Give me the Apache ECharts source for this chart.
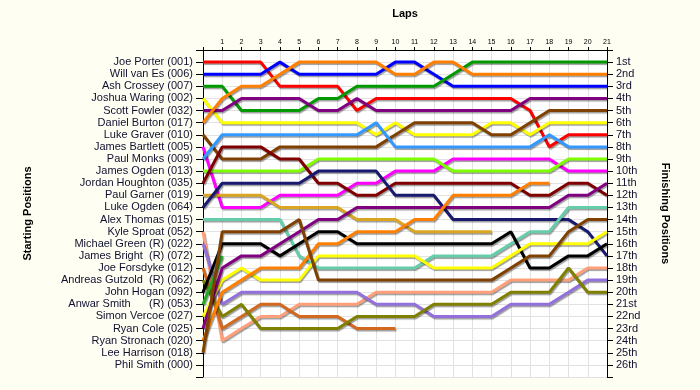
<!DOCTYPE html>
<html>
<head>
<meta charset="utf-8">
<script src="https://cdn.jsdelivr.net/npm/echarts@6/dist/echarts.min.js"></script>
<style>
html,body{margin:0;padding:0;background:#FEFEF3;}
#c{width:700px;height:390px;}
</style>
</head>
<body>
<div id="c"></div>
<script>
// Lap numbers (0 = grid / start)
const laps = [0,1,2,3,4,5,6,7,8,9,10,11,12,13,14,15,16,17,18,19,20,21];

// Starting grid labels (position 1..26)
const startNames = [
  "Joe Porter (001)", "Will van Es (006)", "Ash Crossey (007)", "Joshua Waring (002)",
  "Scott Fowler (032)", "Daniel Burton (017)", "Luke Graver (010)", "James Bartlett (005)",
  "Paul Monks (009)", "James Ogden (013)", "Jordan Houghton (035)", "Paul Garner (019)",
  "Luke Ogden (064)", "Alex Thomas (015)", "Kyle Sproat (052)", "Michael Green (R) (022)",
  "James Bright  (R) (072)", "Joe Forsdyke (012)", "Andreas Gutzold  (R) (062)", "John Hogan (092)",
  "Anwar Smith      (R) (053)", "Simon Vercoe (027)", "Ryan Cole (025)", "Ryan Stronach (020)",
  "Lee Harrison (018)", "Phil Smith (000)"
];

// Finishing position labels
const finishNames = ["1st","2nd","3rd","4th","5th","6th","7th","8th","9th","10th","11th","12th","13th",
  "14th","15th","16th","17th","18th","19th","20th","21st","22nd","23rd","24th","25th","26th"];

// Position per lap (lap 0..21); null = retired
const joePorter      = [1,1,1,1,3,3,3,3,5,4,4,4,4,4,4,4,4,5,8,7,7,7];
const willVanEs      = [2,2,2,2,1,2,2,2,2,2,1,1,2,3,3,3,3,3,3,3,3,3];
const ashCrossey     = [3,3,5,5,5,5,4,4,3,3,3,3,3,2,1,1,1,1,1,1,1,1];
const joshuaWaring   = [4,6,6,6,6,6,6,6,6,7,6,7,7,7,7,6,6,7,6,6,6,6];
const scottFowler    = [5,5,4,4,4,4,5,5,4,5,5,5,5,5,5,5,5,4,4,4,4,4];
const danielBurton   = [6,4,3,3,2,1,1,1,1,1,2,2,1,1,2,2,2,2,2,2,2,2];
const lukeGraver     = [7,9,9,9,8,8,8,8,8,8,7,6,6,6,6,7,7,6,5,5,5,5];
const jamesBartlett  = [8,13,13,13,12,12,12,12,11,11,10,10,10,9,9,9,9,9,9,10,10,10];
const paulMonks      = [9,7,7,7,7,7,7,7,7,6,8,8,8,8,8,8,8,8,7,8,8,8];
const jamesOgden     = [10,10,10,10,10,10,9,9,9,9,9,9,9,10,10,10,10,10,10,9,9,9];
const jordanHoughton = [11,8,8,8,9,9,11,11,12,12,11,11,11,11,11,11,11,12,12,11,11,12];
const paulGarner     = [12,12,12,12,13,13,13,13,14,14,14,15,15,15,15,15,null,null,null,null,null,null];
const lukeOgden      = [13,11,11,11,11,11,10,10,10,10,12,12,12,14,14,14,14,14,14,14,15,17];
const alexThomas     = [14,14,14,14,14,17,18,18,18,18,18,18,17,17,17,17,16,15,15,13,13,13];
const kyleSproat     = [15,24,23,22,22,21,21,21,21,20,20,20,20,20,20,20,19,19,19,19,18,18];
const michaelGreen   = [16,21,20,20,20,20,20,20,20,21,21,21,22,22,22,22,21,21,21,20,19,19];
const joeForsdyke    = [18,23,22,21,21,22,22,22,23,23,23,null,null,null,null,null,null,null,null,null,null,null];
const andreasGutzold = [19,22,21,23,23,23,23,23,22,22,22,22,21,21,21,21,20,20,20,18,20,20];
const johnHogan      = [20,16,16,16,17,16,15,15,16,16,16,16,16,16,16,16,15,18,18,17,17,16];
const anwarSmith     = [21,17,null,null,null,null,null,null,null,null,null,null,null,null,null,null,null,null,null,null,null,null];
const simonVercoe    = [22,19,18,19,19,19,17,17,17,17,17,17,18,18,18,18,17,16,16,16,16,15];
const ryanCole       = [23,18,17,17,16,15,14,14,13,13,13,13,13,13,13,13,13,13,13,12,12,11];
const ryanStronach   = [24,20,19,18,18,18,16,16,15,15,15,14,14,12,12,12,12,11,11,null,null,null];
const leeHarrison    = [25,15,15,15,15,14,19,19,19,19,19,19,19,19,19,19,18,17,17,15,14,14];

const driverSeries = [
  ["Joe Porter", joePorter, "#ff0000"],
  ["Will van Es", willVanEs, "#0000ff"],
  ["Ash Crossey", ashCrossey, "#009a00"],
  ["Joshua Waring", joshuaWaring, "#ffff00"],
  ["Scott Fowler", scottFowler, "#800080"],
  ["Daniel Burton", danielBurton, "#ff8000"],
  ["Luke Graver", lukeGraver, "#804000"],
  ["James Bartlett", jamesBartlett, "#ff00ff"],
  ["Paul Monks", paulMonks, "#3399ff"],
  ["James Ogden", jamesOgden, "#80ff00"],
  ["Jordan Houghton", jordanHoughton, "#800000"],
  ["Paul Garner", paulGarner, "#daa520"],
  ["Luke Ogden", lukeOgden, "#191970"],
  ["Alex Thomas", alexThomas, "#66cdaa"],
  ["Kyle Sproat", kyleSproat, "#ffa07a"],
  ["Michael Green", michaelGreen, "#9370db"],
  ["Joe Forsdyke", joeForsdyke, "#d2691e"],
  ["Andreas Gutzold", andreasGutzold, "#808000"],
  ["John Hogan", johnHogan, "#000000"],
  ["Anwar Smith", anwarSmith, "#22aa22"],
  ["Simon Vercoe", simonVercoe, "#ffff00"],
  ["Ryan Cole", ryanCole, "#800080"],
  ["Ryan Stronach", ryanStronach, "#ff8000"],
  ["Lee Harrison", leeHarrison, "#804000"]
];

const FONT = "'Liberation Sans',Arial,sans-serif";

const chart = echarts.init(document.getElementById('c'), null, {renderer: 'canvas'});

const series = driverSeries.map(([name, pos, color]) => ({
  name: name,
  type: 'line',
  xAxisIndex: 0,
  yAxisIndex: 0,
  showSymbol: false,
  symbol: 'none',
  connectNulls: false,
  animation: false,
  data: laps.map((l, i) => pos[i] == null ? [l, null] : [l, pos[i]]),
  lineStyle: {
    color: color,
    width: 3,
    shadowColor: 'rgba(0,0,0,0.38)',
    shadowBlur: 1,
    shadowOffsetX: 1,
    shadowOffsetY: 1.5
  }
}));

const option = {
  backgroundColor: '#FEFEF3',
  animation: false,
  grid: {
    left: 203, right: 93, top: 50, bottom: 13,
    show: true, backgroundColor: '#ffffff', borderWidth: 0
  },
  xAxis: {
    type: 'value', position: 'top', min: 0, max: 21, interval: 1,
    name: 'Laps', nameLocation: 'middle', nameGap: 31,
    nameTextStyle: {fontFamily: FONT, fontSize: 11, fontWeight: 'bold', color: '#000'},
    axisLine: {show: true, onZero: false, lineStyle: {color: '#000', width: 1}},
    axisTick: {show: true, length: 3, lineStyle: {color: '#000'}},
    axisLabel: {fontFamily: FONT, fontSize: 7, color: '#000', margin: 4,
      formatter: v => v === 0 ? '' : String(v)},
    splitLine: {show: true, lineStyle: {color: '#e2e2e2', width: 1}}
  },
  yAxis: [
    {
      type: 'value', position: 'left', inverse: true, min: 0, max: 27, interval: 1,
      name: 'Starting Positions', nameLocation: 'middle', nameGap: 170,
      nameTextStyle: {fontFamily: FONT, fontSize: 11, fontWeight: 'bold', color: '#000'},
      axisLine: {show: true, onZero: false, lineStyle: {color: '#000', width: 1}},
      axisTick: {show: true, length: 7, lineStyle: {color: '#000'}},
      axisLabel: {fontFamily: FONT, fontSize: 11, color: '#101030', margin: 10,
        formatter: v => startNames[v - 1] || ''},
      splitLine: {show: true, lineStyle: {color: '#e2e2e2', width: 1}}
    },
    {
      type: 'value', position: 'right', inverse: true, min: 0, max: 27, interval: 1,
      name: 'Finishing Positions', nameLocation: 'middle', nameGap: 53, nameRotate: -90,
      nameTextStyle: {fontFamily: FONT, fontSize: 11, fontWeight: 'bold', color: '#000'},
      axisLine: {show: true, onZero: false, lineStyle: {color: '#000', width: 1}},
      axisTick: {show: true, length: 6, lineStyle: {color: '#000'}},
      axisLabel: {fontFamily: FONT, fontSize: 11, color: '#101030', margin: 9,
        formatter: v => finishNames[v - 1] || ''},
      splitLine: {show: false}
    }
  ],
  series: series
};
chart.setOption(option);
</script>
</body>
</html>
